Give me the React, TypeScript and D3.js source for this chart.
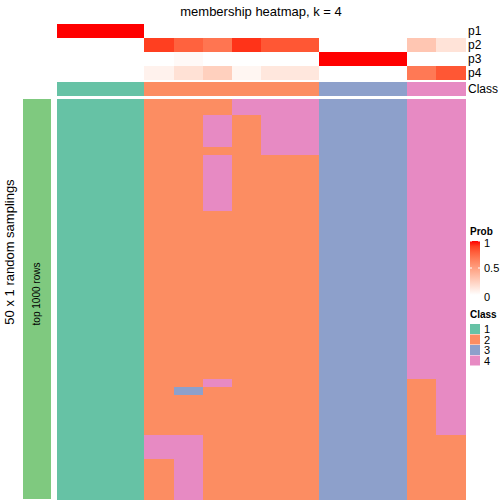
import React from "react";
import * as d3 from "d3";

// ---- data ----
const columnClasses = [1, 1, 1, 2, 2, 2, 2, 2, 2, 3, 3, 3, 4, 4];
const p1 = [1, 1, 1, 0, 0, 0, 0, 0, 0, 0, 0, 0, 0, 0];
const p2 = [0, 0, 0, 0.9, 0.78, 0.7, 0.93, 0.82, 0.82, 0, 0, 0, 0.3, 0.15];
const p3 = [0, 0, 0, 0, 0.03, 0, 0, 0, 0, 1, 1, 1, 0, 0];
const p4 = [0, 0, 0, 0.07, 0.16, 0.25, 0.05, 0.13, 0.13, 0, 0, 0, 0.68, 0.82];
const probNames = ["p1", "p2", "p3", "p4"];
const classLevels = ["1", "2", "3", "4"];
const classColors = ["#66C2A5", "#FC8D62", "#8DA0CB", "#E78AC3"];
const legendTicks = [0, 0.5, 1];
const title = "membership heatmap, k = 4";
const rowTitle = "50 x 1 random samplings";
const rowAnnoLabel = "top 1000 rows";

// each string = one random sampling, one digit per column (class label)
const samplingRows = [
  "11122244433344",
  "11122244433344",
  "11122424433344",
  "11122424433344",
  "11122424433344",
  "11122424433344",
  "11122224433344",
  "11122422233344",
  "11122422233344",
  "11122422233344",
  "11122422233344",
  "11122422233344",
  "11122422233344",
  "11122422233344",
  "11122222233344",
  "11122222233344",
  "11122222233344",
  "11122222233344",
  "11122222233344",
  "11122222233344",
  "11122222233344",
  "11122222233344",
  "11122222233344",
  "11122222233344",
  "11122222233344",
  "11122222233344",
  "11122222233344",
  "11122222233344",
  "11122222233344",
  "11122222233344",
  "11122222233344",
  "11122222233344",
  "11122222233344",
  "11122222233344",
  "11122222233344",
  "11122422233324",
  "11123222233324",
  "11122222233324",
  "11122222233324",
  "11122222233324",
  "11122222233324",
  "11122222233324",
  "11144222233322",
  "11144222233322",
  "11144222233322",
  "11124222233322",
  "11124222233322",
  "11124222233322",
  "11124222233322",
  "11124222233322",
];

const FONT = "'Liberation Sans', Arial, Helvetica, sans-serif";

export default function App() {
  const W = 504;
  const H = 504;
  const nCol = columnClasses.length;
  const x = d3.scaleBand<number>().domain(d3.range(nCol)).range([57, 465]);
  const yBody = d3.scaleBand<number>().domain(d3.range(samplingRows.length)).range([99, 499]);
  const yProb = d3.scaleBand<string>().domain(probNames).range([24, 80]);
  const classRow = { y0: 82, y1: 96 };
  const probColor = d3
    .scaleLinear<string>()
    .domain([0, 1])
    .range(["#FFFFFF", "#FF0000"])
    .interpolate(d3.interpolateLab);
  const classColor = d3.scaleOrdinal<string, string>().domain(classLevels).range(classColors);
  const probs = [p1, p2, p3, p4];

  // legend scale
  const legY = d3.scaleLinear().domain([0, 1]).range([295, 241]);
  const gradStops = d3.range(0, 1.0001, 0.1);

  const cw = x.bandwidth();

  return (
    <svg width={W} height={H} style={{ position: "absolute", left: 0, top: 0 }} fontFamily={FONT}>
      <defs>
        <linearGradient id="probGrad" x1="0" y1="1" x2="0" y2="0">
          {gradStops.map((t) => (
            <stop key={t} offset={t} stopColor={probColor(t)} />
          ))}
        </linearGradient>
      </defs>
      <rect x={0} y={0} width={W} height={H} fill="#fff" />

      {/* title */}
      <text x={(57 + 465) / 2} y={16} textAnchor="middle" fontSize={13} fill="#000">
        {title}
      </text>

      {/* probability annotations */}
      <g shapeRendering="crispEdges">
        {probs.map((arr, r) =>
          arr.map((v, c) => (
            <rect
              key={`p${r}-${c}`}
              x={x(c)}
              y={yProb(probNames[r])}
              width={cw + 0.5}
              height={yProb.bandwidth()}
              fill={probColor(v)}
            />
          ))
        )}
        {columnClasses.map((k, c) => (
          <rect
            key={`cls${c}`}
            x={x(c)}
            y={classRow.y0}
            width={cw + 0.5}
            height={classRow.y1 - classRow.y0}
            fill={classColor(String(k))}
          />
        ))}
      </g>
      {probNames.map((n) => (
        <text
          key={n}
          x={468}
          y={(yProb(n) as number) + yProb.bandwidth() / 2}
          dominantBaseline="central"
          fontSize={12}
          fill="#000"
        >
          {n}
        </text>
      ))}
      <text x={468} y={(classRow.y0 + classRow.y1) / 2} dominantBaseline="central" fontSize={12} fill="#000">
        Class
      </text>

      {/* body */}
      <g shapeRendering="crispEdges">
        {samplingRows.map((row, r) =>
          row.split("").map((k, c) => (
            <rect
              key={`b${r}-${c}`}
              x={x(c)}
              y={yBody(r)}
              width={cw + 0.5}
              height={yBody.bandwidth() + 0.5}
              fill={classColor(k)}
            />
          ))
        )}
      </g>

      {/* row annotation */}
      <rect x={23} y={99} width={28} height={400} fill="#7FC97F" shapeRendering="crispEdges" />
      <text
        transform={`translate(40,294) rotate(-90)`}
        textAnchor="middle"
        fontSize={10}
        fill="#000"
      >
        {rowAnnoLabel}
      </text>
      <text
        transform={`translate(14,252) rotate(-90)`}
        textAnchor="middle"
        fontSize={13}
        fill="#000"
      >
        {rowTitle}
      </text>

      {/* Prob legend */}
      <text x={470} y={235} fontSize={10} fontWeight="bold" fill="#000">
        Prob
      </text>
      <rect x={470} y={241} width={10} height={54} fill="url(#probGrad)" />
      {legendTicks.map((t) => (
        <g key={t}>
          <line x1={470} x2={472} y1={legY(t)} y2={legY(t)} stroke="#fff" strokeWidth={1} />
          <line x1={478} x2={480} y1={legY(t)} y2={legY(t)} stroke="#fff" strokeWidth={1} />
          <text
            x={484}
            y={t === 0 ? legY(t) + 2 : t === 1 ? legY(t) + 2 : legY(t)}
            dominantBaseline="central"
            fontSize={11}
            fill="#000"
          >
            {String(t)}
          </text>
        </g>
      ))}

      {/* Class legend */}
      <text x={470} y={318} fontSize={10} fontWeight="bold" fill="#000">
        Class
      </text>
      {classLevels.map((k, i) => (
        <g key={k}>
          <rect x={470} y={324 + i * 10.5} width={10} height={10} fill={classColor(k)} />
          <text x={484} y={329 + i * 10.5} dominantBaseline="central" fontSize={11} fill="#000">
            {k}
          </text>
        </g>
      ))}
    </svg>
  );
}
